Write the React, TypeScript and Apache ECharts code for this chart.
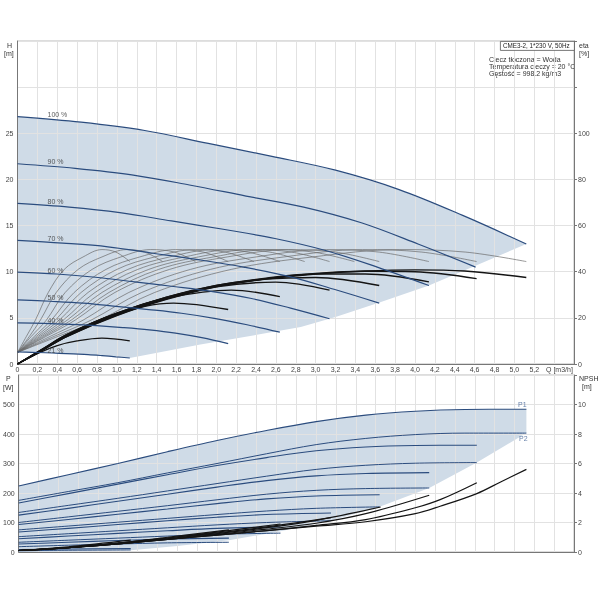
import React, { useEffect, useRef } from 'react';
import * as echarts from 'echarts';

// ---- Q-H speed curves (H in m) ----
const speedLabels = ['100 %', '90 %', '80 %', '70 %', '60 %', '50 %', '40 %', '21 %'];
const qhSpeed100 = [[0, 26.8], [0.64, 26.2], [1.28, 25.3], [1.92, 23.9], [2.56, 22.5], [3.2, 21.0], [3.84, 18.9], [4.48, 16.1], [5.12, 13.0]];
const qhSpeed90 = [[0, 21.7], [0.58, 21.2], [1.15, 20.5], [1.73, 19.4], [2.3, 18.2], [2.88, 17.0], [3.46, 15.3], [4.03, 13.0], [4.61, 10.5]];
const qhSpeed80 = [[0, 17.4], [0.52, 17.0], [1.03, 16.4], [1.55, 15.5], [2.07, 14.6], [2.59, 13.6], [3.1, 12.3], [3.62, 10.5], [4.14, 8.5]];
const qhSpeed70 = [[0, 13.4], [0.455, 13.1], [0.91, 12.7], [1.365, 12.0], [1.82, 11.3], [2.275, 10.5], [2.73, 9.5], [3.185, 8.1], [3.64, 6.6]];
const qhSpeed60 = [[0, 9.95], [0.393, 9.75], [0.785, 9.4], [1.178, 8.9], [1.57, 8.4], [1.963, 7.85], [2.355, 7.1], [2.748, 6.05], [3.14, 4.9]];
const qhSpeed50 = [[0, 6.95], [0.33, 6.8], [0.66, 6.6], [0.99, 6.25], [1.32, 5.9], [1.65, 5.5], [1.98, 4.95], [2.31, 4.25], [2.64, 3.45]];
const qhSpeed40 = [[0, 4.45], [0.265, 4.4], [0.53, 4.3], [0.795, 4.15], [1.06, 3.95], [1.325, 3.7], [1.59, 3.35], [1.855, 2.85], [2.12, 2.2]];
const qhSpeed21 = [[0, 1.3], [0.14, 1.27], [0.28, 1.22], [0.42, 1.16], [0.56, 1.09], [0.71, 1.02], [0.85, 0.91], [0.99, 0.78], [1.13, 0.65]];
const qhMaxFlow = [[5.12, 13.0], [4.62, 10.7], [4.14, 8.5], [3.65, 6.7], [3.2, 5.1], [2.85, 4.0], [1.84, 2.1], [1.13, 0.65]];

// ---- total efficiency curves (eta %) ----
const eta100 = [[0, 0], [0.25, 6], [0.5, 12], [1, 21], [1.5, 28], [2, 33.5], [2.5, 36.8], [3, 39], [3.5, 40.3], [4, 40.8], [4.5, 40.3], [5.12, 37.5]];
const eta90 = [[0, 0], [0.25, 6], [0.5, 12], [1, 21.2], [1.5, 28.3], [2, 33.7], [2.5, 37], [3, 39.2], [3.5, 40.2], [4, 40], [4.62, 37]];
const eta80 = [[0, 0], [0.25, 6], [0.5, 12.2], [1, 21.5], [1.5, 28.6], [2, 34], [2.5, 37.2], [3, 39], [3.5, 39], [4.14, 35.6]];
const eta70 = [[0, 0], [0.25, 6.2], [0.5, 12.4], [1, 21.8], [1.5, 29], [2, 34], [2.5, 36.8], [3, 37.5], [3.64, 34]];
const eta60 = [[0, 0], [0.25, 6.3], [0.5, 12.6], [1, 22], [1.5, 29], [2, 33.5], [2.6, 35.5], [3.14, 32]];
const eta50 = [[0, 0], [0.25, 6.4], [0.5, 12.8], [1, 22], [1.5, 28.5], [2.15, 32], [2.64, 29.2]];
const eta40 = [[0, 0], [0.25, 6.5], [0.5, 12.8], [1, 21.8], [1.57, 26.4], [2.12, 23.6]];
const eta21 = [[0, 0], [0.2, 4.5], [0.4, 8], [0.6, 10], [0.85, 11.2], [1.13, 10]];

// ---- hydraulic efficiency fan (thin curves, eta %) ----
const thinEta = [5, 12, 19, 31, 41, 46.4, 49.6, 48.5, 44.4];
const thinQ = [
  [0, 0.09, 0.18, 0.31, 0.47, 0.66, 0.85, 0.99, 1.13],
  [0, 0.12, 0.23, 0.39, 0.61, 0.85, 1.1, 1.28, 1.46],
  [0, 0.14, 0.29, 0.48, 0.75, 1.04, 1.34, 1.58, 1.79],
  [0, 0.17, 0.34, 0.57, 0.89, 1.23, 1.59, 1.87, 2.12],
  [0, 0.19, 0.38, 0.64, 1.0, 1.38, 1.79, 2.09, 2.38],
  [0, 0.21, 0.42, 0.71, 1.11, 1.53, 1.98, 2.32, 2.64],
  [0, 0.23, 0.46, 0.78, 1.21, 1.68, 2.17, 2.54, 2.89],
  [0, 0.25, 0.5, 0.85, 1.32, 1.82, 2.36, 2.76, 3.14],
  [0, 0.27, 0.54, 0.92, 1.42, 1.97, 2.54, 2.98, 3.39],
  [0, 0.29, 0.58, 0.98, 1.53, 2.11, 2.73, 3.2, 3.64],
  [0, 0.33, 0.66, 1.12, 1.74, 2.4, 3.11, 3.64, 4.14],
  [0, 0.37, 0.74, 1.25, 1.94, 2.68, 3.47, 4.07, 4.62],
  [0, 0.41, 0.82, 1.38, 2.15, 2.97, 3.84, 4.51, 5.12],
];

// ---- power curves (W) ----
const p1Speed100 = [[0, 224], [0.5, 262], [1, 300], [1.5, 340], [2, 378], [2.5, 412], [3, 442], [3.5, 464], [4, 477], [4.5, 483], [5.12, 484]];
const p2Speed100 = [[0, 175], [0.5, 205], [1, 235], [1.5, 268], [2, 300], [2.5, 333], [3, 364], [3.5, 385], [4, 398], [4.5, 403], [5.12, 403]];
const p1Speed90 = [[0, 166], [0.5, 198], [1, 230], [1.5, 262], [2, 293], [2.5, 320], [3, 343], [3.5, 356], [4, 361], [4.62, 362]];
const p2Speed90 = [[0, 134], [0.5, 158], [1, 182], [1.5, 207], [2, 232], [2.5, 257], [3, 280], [3.5, 294], [4, 301], [4.62, 303]];
const p1Speed80 = [[0, 125], [0.5, 148], [1, 172], [1.5, 196], [2, 220], [2.5, 242], [3, 258], [3.5, 266], [4.14, 269]];
const p2Speed80 = [[0, 100], [0.5, 119], [1, 138], [1.5, 157], [2, 177], [2.5, 196], [3, 209], [3.5, 215], [4.14, 217]];
const p1Speed70 = [[0, 93], [0.5, 110], [1, 128], [1.5, 146], [2, 164], [2.5, 180], [3, 190], [3.64, 194]];
const p2Speed70 = [[0, 75], [0.5, 88], [1, 101], [1.5, 114], [2, 127], [2.5, 139], [3, 148], [3.64, 153]];
const p1Speed60 = [[0, 68], [0.5, 80], [1, 93], [1.5, 106], [2, 118], [2.5, 127], [3.15, 132]];
const p2Speed60 = [[0, 52], [0.5, 62], [1, 72], [1.5, 82], [2, 92], [2.5, 100], [3.15, 106]];
const p1Speed50 = [[0, 45], [0.5, 54], [1, 63], [1.5, 72], [2, 80], [2.64, 85]];
const p2Speed50 = [[0, 33], [0.5, 40], [1, 47], [1.5, 54], [2, 60], [2.64, 64]];
const p1Speed40 = [[0, 27], [0.5, 33], [1, 39], [1.5, 44], [2.12, 47]];
const p2Speed40 = [[0, 18], [0.5, 23], [1, 27], [1.5, 31], [2.12, 33]];
const p1Speed21 = [[0, 8], [0.5, 10], [1.13, 12]];
const p2Speed21 = [[0, 4], [0.5, 6], [1.13, 7]];
const pMaxFlow = [[5.12, 403], [4.62, 303], [4.14, 217], [3.64, 153], [3.14, 106], [2.64, 70], [2.12, 40], [1.6, 20], [1.13, 6], [0.5, 1], [0, 0]];

// ---- NPSH curves (m) ----
const npsh100 = [[0, 0.1], [0.5, 0.3], [1, 0.55], [1.5, 0.85], [2, 1.15], [2.5, 1.45], [3, 1.75], [3.5, 2.05], [4, 2.6], [4.25, 3.1], [4.62, 3.96], [4.86, 4.75], [5.12, 5.6]];
const npsh90 = [[0, 0.1], [0.5, 0.3], [1, 0.55], [1.5, 0.85], [2, 1.15], [2.5, 1.45], [3, 1.8], [3.5, 2.2], [4, 3.0], [4.25, 3.55], [4.62, 4.7]];
const npsh80 = [[0, 0.1], [0.5, 0.3], [1, 0.55], [1.5, 0.85], [2, 1.2], [2.5, 1.55], [3, 1.95], [3.5, 2.6], [4.14, 3.85]];
const npsh70 = [[0, 0.1], [0.5, 0.3], [1, 0.55], [1.5, 0.9], [2, 1.25], [2.5, 1.65], [3, 2.15], [3.65, 3.05]];
const npsh60 = [[0, 0.1], [0.5, 0.3], [1, 0.6], [1.5, 0.95], [2, 1.3], [2.5, 1.7], [3.15, 2.33]];
const npsh50 = [[0, 0.1], [0.5, 0.3], [1, 0.6], [1.5, 0.95], [2, 1.35], [2.64, 1.9]];
const npsh40 = [[0, 0.1], [0.5, 0.3], [1, 0.6], [1.5, 1.0], [2.12, 1.5]];
const npsh21 = [[0, 0.1], [0.5, 0.35], [1.13, 0.8]];

const FILL = '#cfdbe7';
const BLUE = '#2b4c7e';
const FONT = '"Liberation Sans", Arial, sans-serif';

const qhCurves = [qhSpeed100, qhSpeed90, qhSpeed80, qhSpeed70, qhSpeed60, qhSpeed50, qhSpeed40, qhSpeed21];
const etaCurves = [eta100, eta90, eta80, eta70, eta60, eta50, eta40, eta21];
const p1Curves = [p1Speed100, p1Speed90, p1Speed80, p1Speed70, p1Speed60, p1Speed50, p1Speed40, p1Speed21];
const p2Curves = [p2Speed100, p2Speed90, p2Speed80, p2Speed70, p2Speed60, p2Speed50, p2Speed40, p2Speed21];
const npshCurves = [npsh100, npsh90, npsh80, npsh70, npsh60, npsh50, npsh40, npsh21];

const fmtQ = (v: number) => (v > 5.3 ? '' : v === 0 ? '0' : v.toFixed(1).replace('.', ','));

const areaSeries = (pts: number[][], xi: number, yi: number) => ({
  type: 'custom',
  xAxisIndex: xi,
  yAxisIndex: yi,
  z: 1,
  silent: true,
  data: [pts[0]],
  encode: { x: 0, y: 1 },
  renderItem: (_p: any, api: any) => ({
    type: 'polygon',
    shape: { points: pts.map((p) => api.coord(p)) },
    style: { fill: FILL },
  }),
});

const lineSeries = (data: number[][], xi: number, yi: number, color: string, width: number) => ({
  type: 'line',
  xAxisIndex: xi,
  yAxisIndex: yi,
  data,
  smooth: 0.35,
  symbol: 'none',
  silent: true,
  z: 3,
  lineStyle: { color, width },
});

const App: React.FC = () => {
  const chartRef = useRef<HTMLDivElement | null>(null);

  useEffect(() => {
    const chart = echarts.init(chartRef.current!, undefined, { renderer: 'svg' });

    const topPoly = [...qhSpeed100, ...qhMaxFlow.slice(1), ...qhSpeed21.slice().reverse().slice(1)];
    const bottomPoly = [...p1Speed100, ...pMaxFlow];

    const axisLabel = { fontSize: 7, color: '#444', fontFamily: FONT };
    const split = { show: true, lineStyle: { color: '#e2e2e2', width: 1 } };
    const axLine = { show: true, lineStyle: { color: '#777', width: 1 } };
    const txt = (text: string, left: number, top: number, extra: any = {}) => ({
      type: 'text', left, top, style: { text, fontSize: 7, fill: '#333', fontFamily: FONT, ...extra },
    });

    const option = {
      animation: false,
      textStyle: { fontFamily: FONT },
      grid: [
        { left: 17.5, right: 26, top: 41, height: 323, show: true, borderColor: '#bbb', borderWidth: 1 },
        { left: 17.5, right: 26, top: 375, height: 177, show: true, borderColor: '#bbb', borderWidth: 1 },
      ],
      xAxis: [
        {
          gridIndex: 0, type: 'value', min: 0, max: 5.6, interval: 0.2, z: 2,
          axisLine: axLine, axisTick: { show: false }, splitLine: split,
          axisLabel: { ...axisLabel, margin: 2, formatter: fmtQ },
        },
        {
          gridIndex: 1, type: 'value', min: 0, max: 5.6, interval: 0.2, z: 2,
          axisLine: axLine, axisTick: { show: false }, splitLine: split,
          axisLabel: { show: false },
        },
      ],
      yAxis: [
        {
          gridIndex: 0, type: 'value', min: 0, max: 35, interval: 5, position: 'left', z: 2,
          axisLine: axLine, axisTick: { show: false }, splitLine: split,
          axisLabel: { ...axisLabel, margin: 4, formatter: (v: number) => (v <= 25 ? String(v) : '') },
        },
        {
          gridIndex: 0, type: 'value', min: 0, max: 140, interval: 20, position: 'right', z: 2,
          axisLine: axLine, axisTick: { show: true, length: 3, lineStyle: { color: '#777' } }, splitLine: { show: false },
          axisLabel: { ...axisLabel, margin: 4, formatter: (v: number) => (v <= 100 ? String(v) : '') },
        },
        {
          gridIndex: 1, type: 'value', min: 0, max: 600, interval: 100, position: 'left', z: 2,
          axisLine: axLine, axisTick: { show: false }, splitLine: split,
          axisLabel: { ...axisLabel, margin: 4, formatter: (v: number) => (v <= 500 ? String(v) : '') },
        },
        {
          gridIndex: 1, type: 'value', min: 0, max: 12, interval: 2, position: 'right', z: 2,
          axisLine: axLine, axisTick: { show: true, length: 3, lineStyle: { color: '#777' } }, splitLine: { show: false },
          axisLabel: { ...axisLabel, margin: 4, formatter: (v: number) => (v <= 10 ? String(v) : '') },
        },
      ],
      series: [
        areaSeries(topPoly, 0, 0),
        areaSeries(bottomPoly, 1, 2),
        ...thinQ.map((q) => lineSeries(q.map((x, i) => [x, thinEta[i]]), 0, 1, '#6a6a6a', 0.7)),
        ...etaCurves.map((c) => lineSeries(c, 0, 1, '#141414', 1.4)),
        ...qhCurves.map((c) => lineSeries(c, 0, 0, BLUE, 1.2)),
        {
          type: 'scatter', xAxisIndex: 0, yAxisIndex: 0, symbolSize: 0, silent: true, z: 4,
          data: qhCurves.map((c) => c[0]),
          label: {
            show: true, position: 'right', distance: 0, offset: [30, -2],
            fontSize: 7, color: '#333', fontFamily: FONT,
            formatter: (p: any) => speedLabels[p.dataIndex],
          },
        },
        ...p1Curves.map((c) => lineSeries(c, 1, 2, BLUE, 1.1)),
        ...p2Curves.map((c) => lineSeries(c, 1, 2, BLUE, 1.0)),
        ...npshCurves.map((c) => lineSeries(c, 1, 3, '#141414', 1.2)),
        {
          type: 'scatter', xAxisIndex: 1, yAxisIndex: 2, symbolSize: 0, silent: true, z: 4,
          data: [
            { value: p1Speed100[p1Speed100.length - 1], label: { formatter: 'P1', offset: [-4, -5] } },
            { value: p2Speed100[p2Speed100.length - 1], label: { formatter: 'P2', offset: [-3, 5] } },
          ],
          label: { show: true, position: 'inside', fontSize: 7, color: '#3d5f92', fontFamily: FONT },
        },
      ],
      graphic: [
        txt('H', 7, 42),
        txt('[m]', 4, 50),
        txt('eta', 579, 42),
        txt('[%]', 579, 50),
        txt('P', 6, 375),
        txt('[W]', 3, 384),
        txt('NPSH', 579, 375),
        txt('[m]', 582, 383),
        txt('Q [m3/h]', 546, 366, { fill: '#444' }),
        {
          type: 'rect', left: 500, top: 41, z: 5,
          shape: { width: 74, height: 9 },
          style: { fill: '#fff', stroke: '#555', lineWidth: 0.8 },
        },
        { ...txt('CME3-2, 1*230 V, 50Hz', 503, 42.8, { fontSize: 6.3, fill: '#222' }), z: 6 },
        txt('Ciecz tłoczona = Woda', 489, 56),
        txt('Temperatura cieczy = 20 °C', 489, 63),
        txt('Gęstość = 998.2 kg/m3', 489, 70),
      ],
    };

    chart.setOption(option as any);

    return () => {
      chart.dispose();
    };
  }, []);

  return <div ref={chartRef} style={{ position: 'fixed', left: 0, top: 0, width: 600, height: 600 }} />;
};

export default App;
